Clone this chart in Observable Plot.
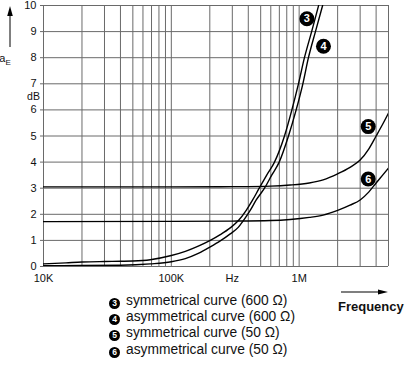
<!DOCTYPE html>
<html><head><meta charset="utf-8">
<script src="https://cdn.jsdelivr.net/npm/d3@7"></script>
<script src="https://cdn.jsdelivr.net/npm/@observablehq/plot@0.6"></script>
<style>
body{margin:0;background:#fff;font-family:"Liberation Sans",Arial,Helvetica,sans-serif;}
#wrap{position:relative;width:408px;height:380px;overflow:hidden;}
#legend{position:absolute;left:109px;top:293px;font-size:13.8px;line-height:16.2px;color:#111;}
#legend .item{white-space:nowrap;}
#legend .b{display:inline-block;width:11px;height:11px;border-radius:50%;background:#000;color:#fff;font-size:8.5px;font-weight:bold;text-align:center;line-height:11px;margin-right:6px;vertical-align:-1px;}
#freq{position:absolute;left:338px;top:299px;font-size:13px;font-weight:bold;color:#111;}
#farrow{position:absolute;left:340px;top:287px;}
</style></head><body><div id="wrap"></div>
<script>
// Curve 3: symmetrical curve (600 Ω)
const freq3 = [1e4, 15e3, 20e3, 30e3, 40e3, 50e3, 68.5e3, 100e3, 128.7e3, 162.5e3, 201.7e3, 241.4e3, 289e3, 333.7e3, 385.4e3, 429.4e3, 487e3, 557.4e3, 641.2e3, 767.7e3, 877e3, 987.5e3, 1.1e6, 1.252e6, 1.42e6];
const val3  = [0.1, 0.14, 0.17, 0.19, 0.2, 0.21, 0.26, 0.42, 0.58, 0.78, 1.0, 1.22, 1.48, 1.75, 2.15, 2.52, 3.0, 3.5, 4.0, 5.0, 6.0, 7.0, 8.0, 9.0, 10.0];
// Curve 4: asymmetrical curve (600 Ω)
const freq4 = [1e4, 20e3, 40e3, 68.5e3, 100e3, 128.7e3, 162.5e3, 201.7e3, 241.4e3, 289e3, 333.7e3, 365e3, 414e3, 461.5e3, 535.8e3, 610e3, 698e3, 825e3, 947.5e3, 1.069e6, 1.182e6, 1.341e6, 1.526e6];
const val4  = [0.03, 0.04, 0.05, 0.1, 0.18, 0.3, 0.5, 0.75, 0.98, 1.25, 1.5, 1.75, 2.15, 2.55, 3.0, 3.5, 4.0, 5.0, 6.0, 7.0, 8.0, 9.0, 10.0];
// Curve 5: symmetrical curve (50 Ω)
const freq5 = [1e4, 1e5, 3e5, 6e5, 8.5e5, 1.2e6, 1.54e6, 2e6, 2.5e6, 3e6, 3.5e6, 4e6, 4.5e6, 5e6];
const val5  = [3.05, 3.05, 3.06, 3.08, 3.12, 3.2, 3.32, 3.55, 3.8, 4.08, 4.5, 5.0, 5.45, 5.88];
// Curve 6: asymmetrical curve (50 Ω)
const freq6 = [1e4, 1e5, 3e5, 6e5, 8.5e5, 1.2e6, 1.54e6, 2e6, 2.5e6, 3e6, 3.5e6, 4e6, 4.5e6, 5e6];
const val6  = [1.72, 1.73, 1.74, 1.76, 1.8, 1.88, 1.97, 2.15, 2.35, 2.55, 2.85, 3.2, 3.5, 3.77];

const curveIds = ["3", "4", "5", "6"];
const legendTexts = ["symmetrical curve (600 Ω)", "asymmetrical curve (600 Ω)", "symmetrical curve (50 Ω)", "asymmetrical curve (50 Ω)"];
// Circled curve labels on the chart
const labelFreq = [1.15e6, 1.55e6, 3.47e6, 3.47e6];
const labelVal  = [9.49, 8.44, 5.36, 3.35];

const yTicks = [0, 1, 2, 3, 4, 5, 6, 7, 8, 9, 10];
const xTicks = [1e4, 1e5, 3e5, 1e6];
const xTickLabels = ["10K", "100K", "Hz", "1M"];

const freqs = [freq3, freq4, freq5, freq6];
const vals = [val3, val4, val5, val6];
const rows = [];
curveIds.forEach((id, k) => freqs[k].forEach((f, i) => rows.push({curve: id, f, v: vals[k][i]})));
const labels = curveIds.map((id, i) => ({id, f: labelFreq[i], v: labelVal[i]}));

// log grid: 1..9 per decade, up to 5M
const xGrid = [];
for (let d = 1e4; d <= 1e6; d *= 10) for (let m = 1; m <= 9; m++) { const g = m * d; if (g <= 5e6 + 1) xGrid.push(g); }

const font = '"Liberation Sans", Arial, Helvetica, sans-serif';
const chart = Plot.plot({
  width: 408, height: 290,
  marginLeft: 43, marginRight: 20, marginTop: 5, marginBottom: 24,
  x: {type: "log", domain: [1e4, 5e6]},
  y: {domain: [0, 10]},
  style: {fontFamily: font, fontSize: "11px", color: "#111", background: "#fff", overflow: "visible"},
  marks: [
    Plot.ruleX(xGrid, {stroke: "#6a6a6a", strokeWidth: 1}),
    Plot.ruleY(yTicks, {stroke: "#6a6a6a", strokeWidth: 1}),
    Plot.axisY({ticks: yTicks, tickSize: 3, tickPadding: 4, label: null, stroke: "#6a6a6a"}),
    Plot.axisX({ticks: xTicks, tickFormat: d => xTickLabels[xTicks.indexOf(d)], tickSize: 0, tickPadding: 8, label: null}),
    Plot.line(rows, {x: "f", y: "v", z: "curve", stroke: "#000", strokeWidth: 1.4, curve: "monotone-x", clip: true}),
    Plot.dot(labels, {x: "f", y: "v", r: 7.5, fill: "#000", stroke: "none"}),
    Plot.text(labels, {x: "f", y: "v", text: "id", fill: "#fff", fontWeight: "bold", fontSize: 11}),
    Plot.text(["dB"], {frameAnchor: "left", y: () => 6.5, dx: -10, textAnchor: "middle", fontSize: 10.5})
  ]
});

const wrap = document.getElementById("wrap");
wrap.appendChild(chart);

// a_E axis label with upward arrow
const svg = d3.select(chart);
svg.append("line").attr("x1", 10).attr("x2", 10).attr("y1", 47).attr("y2", 14).attr("stroke", "#000").attr("stroke-width", 1);
svg.append("path").attr("d", "M10,6 L7.2,16 L12.8,16 Z").attr("fill", "#000");
const t = svg.append("text").attr("x", 5).attr("y", 62).attr("font-size", 11).attr("fill", "#111").attr("font-family", font);
t.append("tspan").text("a");
t.append("tspan").attr("font-size", 8).attr("dy", 3).text("E");

// legend
const legend = document.createElement("div");
legend.id = "legend";
curveIds.forEach((id, i) => {
  const it = document.createElement("div"); it.className = "item";
  const b = document.createElement("span"); b.className = "b"; b.textContent = id;
  it.appendChild(b); it.appendChild(document.createTextNode(legendTexts[i]));
  legend.appendChild(it);
});
wrap.appendChild(legend);

// Frequency label with arrow
const fa = d3.select(wrap).append("svg").attr("id", "farrow").attr("width", 52).attr("height", 10);
fa.append("line").attr("x1", 1).attr("x2", 40).attr("y1", 5).attr("y2", 5).attr("stroke", "#000").attr("stroke-width", 1.2);
fa.append("path").attr("d", "M48,5 L38,2.6 L38,7.4 Z").attr("fill", "#000");
const fr = document.createElement("div"); fr.id = "freq"; fr.textContent = "Frequency";
wrap.appendChild(fr);
</script></body></html>
